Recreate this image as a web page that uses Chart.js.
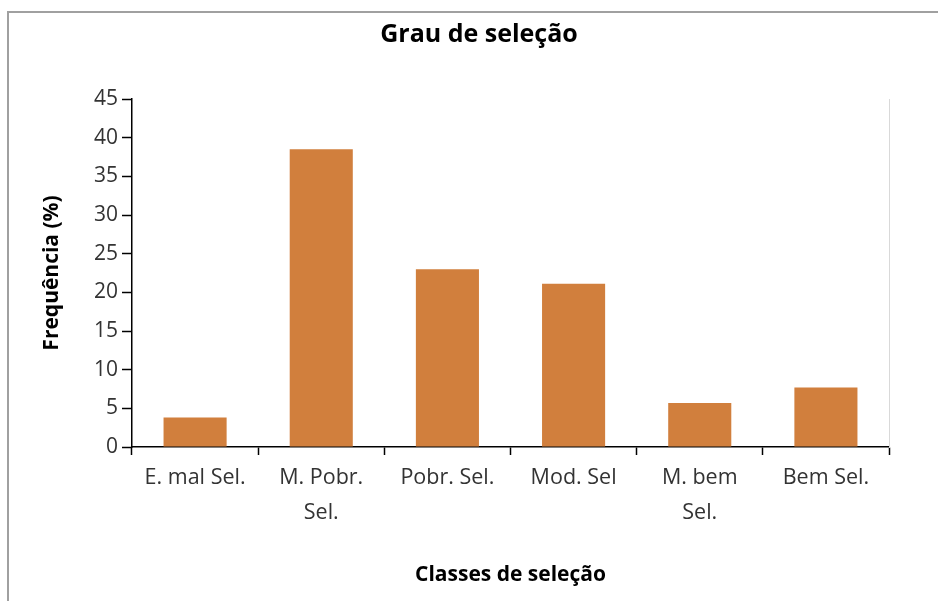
<!DOCTYPE html>
<html>
<head>
<meta charset="utf-8">
<script src="https://cdn.jsdelivr.net/npm/chart.js@4"></script>
<style>
  html, body { margin: 0; padding: 0; background: #fff; overflow: hidden; }
  #frame { position: absolute; left: 7px; top: 11px; width: 1000px; height: 700px;
           border-left: 2px solid #a0a0a0; border-top: 2px solid #a0a0a0; }
  #wrap { position: absolute; left: 0; top: 0; width: 938px; height: 601px; }
</style>
</head>
<body>
<div id="frame"></div>
<div id="wrap"><canvas id="grafico"></canvas></div>
<script>
  const classes = [['E. mal Sel.'], ['M. Pobr.', 'Sel.'], ['Pobr. Sel.'], ['Mod. Sel'], ['M. bem', 'Sel.'], ['Bem Sel.']];
  const frequencia = [3.8, 38.5, 23.0, 21.1, 5.7, 7.7];
  const ticksY = [0, 5, 10, 15, 20, 25, 30, 35, 40, 45];

  const fonte = "'Open Sans', sans-serif";
  const laranja = '#D17F3D';

  const ctx = document.getElementById('grafico');

  new Chart(ctx, {
    type: 'bar',
    data: {
      labels: classes,
      datasets: [{
        label: 'Frequência (%)',
        data: frequencia,
        backgroundColor: laranja,
        borderWidth: 0,
        barPercentage: 0.5,
        categoryPercentage: 1
      }]
    },
    options: {
      responsive: true,
      maintainAspectRatio: false,
      animation: false,
      layout: { padding: { left: 20, right: 0, top: 0, bottom: 0 } },
      plugins: {
        legend: { display: false },
        tooltip: { enabled: false },
        title: {
          display: true,
          text: 'Grau de seleção',
          color: '#000',
          font: { family: fonte, size: 25, weight: 'bold' },
          padding: { top: 20, bottom: 49 }
        }
      },
      scales: {
        x: {
          offset: true,
          grid: { offset: true, drawOnChartArea: false, color: '#000', tickLength: 8, tickWidth: 1.5 },
          border: { color: '#000', width: 1.5 },
          ticks: {
            color: '#333',
            font: { family: fonte, size: 21.5, lineHeight: 1.63 },
            padding: 5,
            maxRotation: 0,
            autoSkip: false
          },
          title: {
            display: true,
            text: 'Classes de seleção',
            color: '#000',
            font: { family: fonte, size: 21, weight: 'bold' },
            padding: { top: 0, bottom: 13 }
          },
          afterFit(scale) { scale.height = 154; }
        },
        y: {
          min: 0,
          max: 45,
          afterBuildTicks(scale) { scale.ticks = ticksY.map(v => ({ value: v })); },
          grid: { drawOnChartArea: false, color: '#000', tickLength: 10, tickWidth: 1.5 },
          border: { color: '#000', width: 1.5 },
          ticks: {
            color: '#333',
            font: { family: fonte, size: 21 },
            padding: 4
          },
          title: {
            display: true,
            text: 'Frequência (%)',
            color: '#000',
            font: { family: fonte, size: 21, weight: 'bold' },
            padding: { top: 19, bottom: 0 }
          },
          afterFit(scale) { scale.width = 112; }
        },
        // eixo vazio à direita: só a linha cinza clara
        y2: {
          position: 'right',
          min: 0,
          max: 45,
          grid: { drawOnChartArea: false, drawTicks: false },
          border: { color: '#d9d9d9', width: 1 },
          ticks: { display: false },
          afterFit(scale) { scale.width = 49; }
        }
      }
    }
  });
</script>
</body>
</html>
